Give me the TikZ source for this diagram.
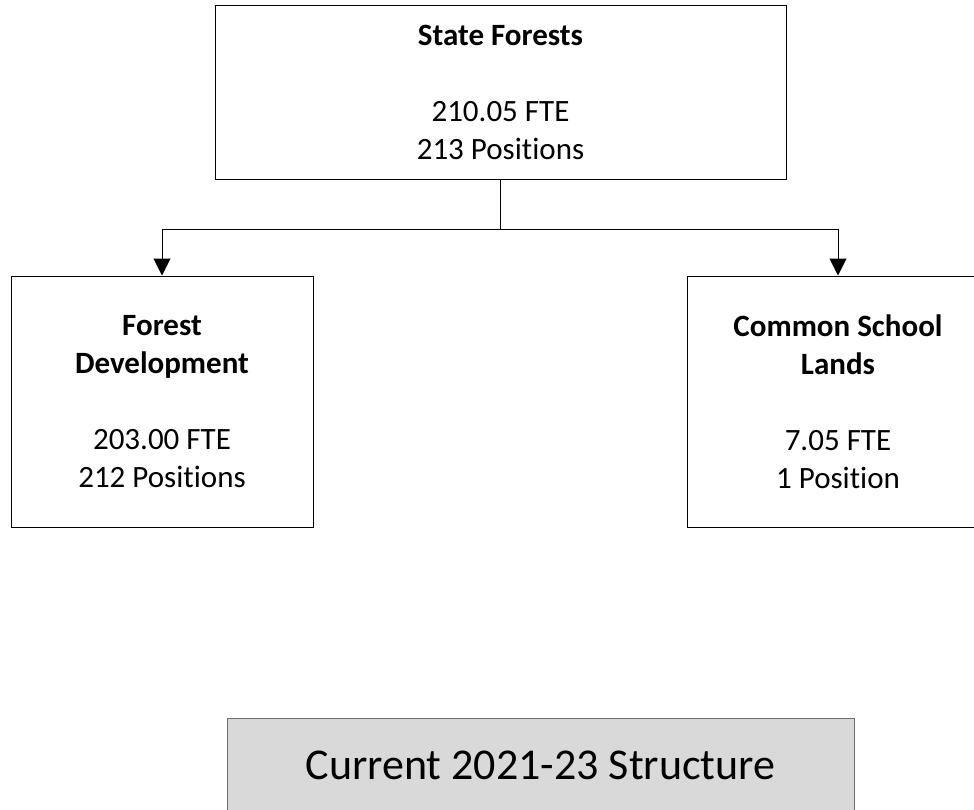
\documentclass[tikz,border=0pt]{standalone}
\usepackage{fontspec}
\setmainfont{Carlito}[Ligatures={NoCommon}]
\usepackage{tikz}
\usetikzlibrary{arrows.meta}
\definecolor{boxgray}{RGB}{217,217,217}
\definecolor{edgegray}{RGB}{110,110,110}
\tikzset{
  % Tashkilot qutilari
  orgbox/.style   = {draw=black, line width=1pt, inner sep=0pt, align=center,
                     font=\fontsize{31}{38}\selectfont},
  topbox/.style   = {orgbox, minimum width=571pt, minimum height=174pt},
  unitbox/.style  = {orgbox, minimum width=302pt, minimum height=251pt},
  titlebox/.style = {fill=boxgray, draw=edgegray, line width=1pt, inner sep=0pt,
                     minimum width=627pt, minimum height=94pt,
                     font=\fontsize{44}{53}\selectfont},
  % Bog'lovchi chiziqlar
  orgline/.style  = {line width=1pt, draw=black},
  orgarrow/.style = {orgline, -{Triangle[width=17pt,length=17pt]}},
}
\begin{document}
\begin{tikzpicture}[x=1pt,y=-1pt]
  % Chegara
  \path[use as bounding box, clip] (0,0) rectangle (974,809);
  % Qutilar
  \node[topbox] (sf) at (500.5,92) {\textbf{State Forests}\\[38pt]210.05 FTE\\213 Positions};
  \node[unitbox] (fd) at (162,401.5) {\textbf{Forest}\\\textbf{Development}\\[38pt]203.00 FTE\\212 Positions};
  \node[unitbox] (csl) at (838,401.5) {\textbf{Common School}\\\textbf{Lands}\\[38pt]7.05 FTE\\1 Position};
  % Sarlavha
  \node[titlebox] (cur) at (540.5,765) {Current 2021-23 Structure};
  % Ulanishlar
  \coordinate (split) at (500.5,229);
  \draw[orgline] (sf.south) -- (split);
  \draw[orgarrow] (split) -| (fd.north);
  \draw[orgarrow] (split) -| (csl.north);
\end{tikzpicture}
\end{document}
